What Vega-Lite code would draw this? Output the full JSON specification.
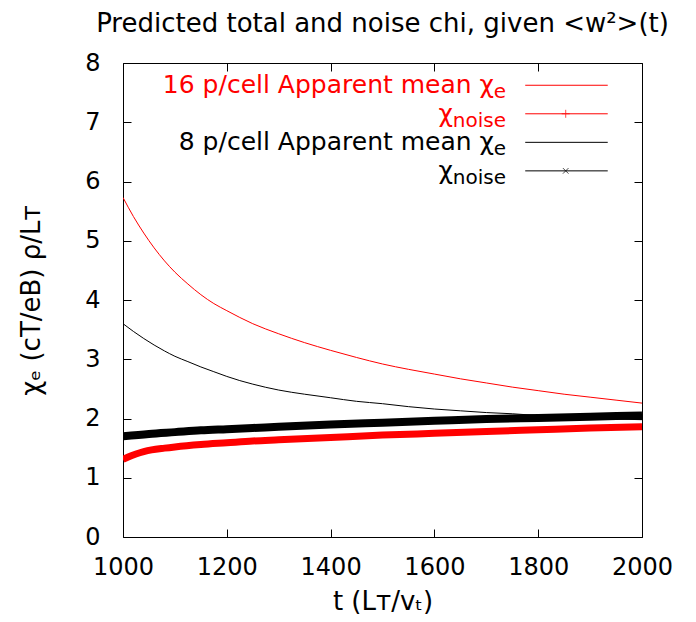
{
  "$schema": "https://vega.github.io/schema/vega-lite/v6.json",
  "width": 519,
  "height": 474,
  "autosize": {"type": "none"},
  "padding": {"left": 123, "top": 63, "right": 54, "bottom": 85},
  "background": "white",
  "title": {
    "text": "Predicted total and noise chi, given <w²>(t)",
    "font": "DejaVu Sans",
    "fontSize": 26,
    "fontWeight": "normal",
    "color": "black",
    "anchor": "middle",
    "baseline": "alphabetic",
    "offset": -7
  },
  "config": {
    "view": {"stroke": "black", "strokeWidth": 1},
    "font": "DejaVu Sans",
    "axis": {
      "grid": false,
      "domain": false,
      "tickColor": "black",
      "tickSize": -8,
      "tickWidth": 1,
      "labelFont": "DejaVu Sans",
      "labelFontSize": 24,
      "labelColor": "black",
      "labelFlush": false,
      "labelOverlap": false,
      "format": "d",
      "titleFont": "DejaVu Sans",
      "titleFontSize": 26,
      "titleFontWeight": "normal",
      "titleColor": "black"
    }
  },
  "datasets": {
    "curves": [
      {"t": 1000, "v": 5.73, "s": "e16"}, {"t": 1020, "v": 5.41, "s": "e16"}, {"t": 1040, "v": 5.13, "s": "e16"},
      {"t": 1060, "v": 4.88, "s": "e16"}, {"t": 1080, "v": 4.66, "s": "e16"}, {"t": 1100, "v": 4.47, "s": "e16"},
      {"t": 1125, "v": 4.27, "s": "e16"}, {"t": 1150, "v": 4.09, "s": "e16"}, {"t": 1175, "v": 3.94, "s": "e16"},
      {"t": 1200, "v": 3.82, "s": "e16"}, {"t": 1250, "v": 3.60, "s": "e16"}, {"t": 1300, "v": 3.43, "s": "e16"},
      {"t": 1350, "v": 3.28, "s": "e16"}, {"t": 1400, "v": 3.15, "s": "e16"}, {"t": 1450, "v": 3.03, "s": "e16"},
      {"t": 1500, "v": 2.92, "s": "e16"}, {"t": 1550, "v": 2.83, "s": "e16"}, {"t": 1600, "v": 2.75, "s": "e16"},
      {"t": 1650, "v": 2.67, "s": "e16"}, {"t": 1700, "v": 2.60, "s": "e16"}, {"t": 1750, "v": 2.53, "s": "e16"},
      {"t": 1800, "v": 2.47, "s": "e16"}, {"t": 1850, "v": 2.41, "s": "e16"}, {"t": 1900, "v": 2.36, "s": "e16"},
      {"t": 1950, "v": 2.31, "s": "e16"}, {"t": 2000, "v": 2.26, "s": "e16"},

      {"t": 1000, "v": 1.31, "s": "n16"}, {"t": 1010, "v": 1.35, "s": "n16"}, {"t": 1025, "v": 1.40, "s": "n16"},
      {"t": 1040, "v": 1.44, "s": "n16"}, {"t": 1055, "v": 1.47, "s": "n16"}, {"t": 1080, "v": 1.50, "s": "n16"},
      {"t": 1100, "v": 1.52, "s": "n16"}, {"t": 1150, "v": 1.56, "s": "n16"}, {"t": 1200, "v": 1.59, "s": "n16"},
      {"t": 1250, "v": 1.62, "s": "n16"}, {"t": 1300, "v": 1.64, "s": "n16"}, {"t": 1400, "v": 1.68, "s": "n16"},
      {"t": 1500, "v": 1.72, "s": "n16"}, {"t": 1600, "v": 1.75, "s": "n16"}, {"t": 1700, "v": 1.78, "s": "n16"},
      {"t": 1800, "v": 1.81, "s": "n16"}, {"t": 1900, "v": 1.84, "s": "n16"}, {"t": 2000, "v": 1.86, "s": "n16"},

      {"t": 1000, "v": 3.60, "s": "e8"}, {"t": 1020, "v": 3.47, "s": "e8"}, {"t": 1040, "v": 3.35, "s": "e8"},
      {"t": 1060, "v": 3.24, "s": "e8"}, {"t": 1080, "v": 3.14, "s": "e8"}, {"t": 1100, "v": 3.05, "s": "e8"},
      {"t": 1125, "v": 2.96, "s": "e8"}, {"t": 1150, "v": 2.87, "s": "e8"}, {"t": 1175, "v": 2.79, "s": "e8"},
      {"t": 1200, "v": 2.71, "s": "e8"}, {"t": 1225, "v": 2.64, "s": "e8"}, {"t": 1250, "v": 2.58, "s": "e8"},
      {"t": 1300, "v": 2.48, "s": "e8"}, {"t": 1350, "v": 2.41, "s": "e8"}, {"t": 1400, "v": 2.35, "s": "e8"},
      {"t": 1450, "v": 2.29, "s": "e8"}, {"t": 1500, "v": 2.25, "s": "e8"}, {"t": 1550, "v": 2.20, "s": "e8"},
      {"t": 1600, "v": 2.16, "s": "e8"}, {"t": 1650, "v": 2.13, "s": "e8"}, {"t": 1700, "v": 2.10, "s": "e8"},
      {"t": 1750, "v": 2.08, "s": "e8"}, {"t": 1800, "v": 2.05, "s": "e8"}, {"t": 1850, "v": 2.03, "s": "e8"},
      {"t": 1900, "v": 2.01, "s": "e8"}, {"t": 1950, "v": 1.99, "s": "e8"}, {"t": 2000, "v": 1.98, "s": "e8"},

      {"t": 1000, "v": 1.70, "s": "n8"}, {"t": 1050, "v": 1.74, "s": "n8"}, {"t": 1100, "v": 1.77, "s": "n8"},
      {"t": 1150, "v": 1.80, "s": "n8"}, {"t": 1200, "v": 1.82, "s": "n8"}, {"t": 1250, "v": 1.84, "s": "n8"},
      {"t": 1300, "v": 1.86, "s": "n8"}, {"t": 1400, "v": 1.90, "s": "n8"}, {"t": 1500, "v": 1.93, "s": "n8"},
      {"t": 1600, "v": 1.96, "s": "n8"}, {"t": 1700, "v": 1.99, "s": "n8"}, {"t": 1800, "v": 2.01, "s": "n8"},
      {"t": 1900, "v": 2.03, "s": "n8"}, {"t": 2000, "v": 2.05, "s": "n8"}
    ],
    "legend": [
      {"rank": 1, "grp": "16", "label": "16 p/cell Apparent mean χ", "sub": "e", "marker": "none"},
      {"rank": 2, "grp": "16", "label": "χ", "sub": "noise", "marker": "plus"},
      {"rank": 3, "grp": "8", "label": "8 p/cell Apparent mean χ", "sub": "e", "marker": "none"},
      {"rank": 4, "grp": "8", "label": "χ", "sub": "noise", "marker": "cross"}
    ]
  },
  "layer": [
    {
      "data": {"name": "curves"},
      "layer": [
        {
          "transform": [{"filter": "datum.s === 'e16'"}],
          "mark": {"type": "line", "color": "#ff0000", "strokeWidth": 1, "interpolate": "monotone", "clip": true},
          "encoding": {
            "x": {"field": "t", "type": "quantitative", "scale": {"domain": [1000, 2000], "nice": false},
                  "axis": {"orient": "bottom", "values": [1000, 1200, 1400, 1600, 1800, 2000], "labelPadding": 26, "title": "t (Lᴛ/vₜ)", "titlePadding": 9}},
            "y": {"field": "v", "type": "quantitative", "scale": {"domain": [0, 8], "nice": false},
                  "axis": {"orient": "left", "values": [0, 1, 2, 3, 4, 5, 6, 7, 8], "labelPadding": 31, "title": "χₑ (cT/eB) ρ/Lᴛ", "titlePadding": 40}}
          }
        },
        {
          "transform": [{"filter": "datum.s === 'n16'"}],
          "mark": {"type": "line", "color": "#ff0000", "strokeWidth": 7, "strokeCap": "butt", "interpolate": "monotone", "clip": true},
          "encoding": {
            "x": {"field": "t", "type": "quantitative", "scale": {"domain": [1000, 2000], "nice": false},
                  "axis": {"orient": "top", "values": [1000, 1200, 1400, 1600, 1800, 2000], "labels": false, "title": null}},
            "y": {"field": "v", "type": "quantitative", "scale": {"domain": [0, 8], "nice": false},
                  "axis": {"orient": "right", "values": [0, 1, 2, 3, 4, 5, 6, 7, 8], "labels": false, "title": null}}
          }
        },
        {
          "transform": [{"filter": "datum.s === 'e8'"}],
          "mark": {"type": "line", "color": "#000000", "strokeWidth": 1, "interpolate": "monotone", "clip": true},
          "encoding": {
            "x": {"field": "t", "type": "quantitative", "axis": null},
            "y": {"field": "v", "type": "quantitative", "axis": null}
          }
        },
        {
          "transform": [{"filter": "datum.s === 'n8'"}],
          "mark": {"type": "line", "color": "#000000", "strokeWidth": 8, "strokeCap": "butt", "interpolate": "monotone", "clip": true},
          "encoding": {
            "x": {"field": "t", "type": "quantitative", "axis": null},
            "y": {"field": "v", "type": "quantitative", "axis": null}
          }
        }
      ],
      "resolve": {"axis": {"x": "independent", "y": "independent"}}
    },
    {
      "data": {"name": "legend"},
      "encoding": {
        "y": {"field": "rank", "type": "quantitative", "scale": {"domain": [0.22, 16.83], "reverse": true, "nice": false, "zero": false}, "axis": null},
        "color": {"field": "grp", "type": "nominal", "scale": {"domain": ["16", "8"], "range": ["#ff0000", "#000000"]}, "legend": null}
      },
      "layer": [
        {
          "transform": [{"filter": "datum.sub === 'e'"}],
          "mark": {"type": "text", "align": "right", "baseline": "alphabetic", "fontSize": 25, "dx": -12, "dy": 8},
          "encoding": {"x": {"datum": 1738, "type": "quantitative", "axis": null}, "text": {"field": "label"}}
        },
        {
          "transform": [{"filter": "datum.sub === 'noise'"}],
          "mark": {"type": "text", "align": "right", "baseline": "alphabetic", "fontSize": 25, "dx": -53, "dy": 8},
          "encoding": {"x": {"datum": 1738, "type": "quantitative", "axis": null}, "text": {"field": "label"}}
        },
        {
          "mark": {"type": "text", "align": "right", "baseline": "alphabetic", "fontSize": 20, "dy": 13},
          "encoding": {"x": {"datum": 1738, "type": "quantitative", "axis": null}, "text": {"field": "sub"}}
        },
        {
          "mark": {"type": "rule", "strokeWidth": 1},
          "encoding": {"x": {"datum": 1775, "type": "quantitative", "axis": null}, "x2": {"datum": 1934}}
        },
        {
          "transform": [{"filter": "datum.marker !== 'none'"}],
          "mark": {"type": "point", "filled": false, "strokeWidth": 1, "size": 64},
          "encoding": {
            "x": {"datum": 1853, "type": "quantitative", "axis": null},
            "shape": {"field": "marker", "type": "nominal", "scale": {"domain": ["plus", "cross"], "range": ["M-1,0L1,0M0,-1L0,1", "M-0.7,-0.7L0.7,0.7M-0.7,0.7L0.7,-0.7"]}, "legend": null}
          }
        }
      ]
    }
  ],
  "resolve": {"scale": {"y": "independent"}, "axis": {"x": "independent", "y": "independent"}}
}
